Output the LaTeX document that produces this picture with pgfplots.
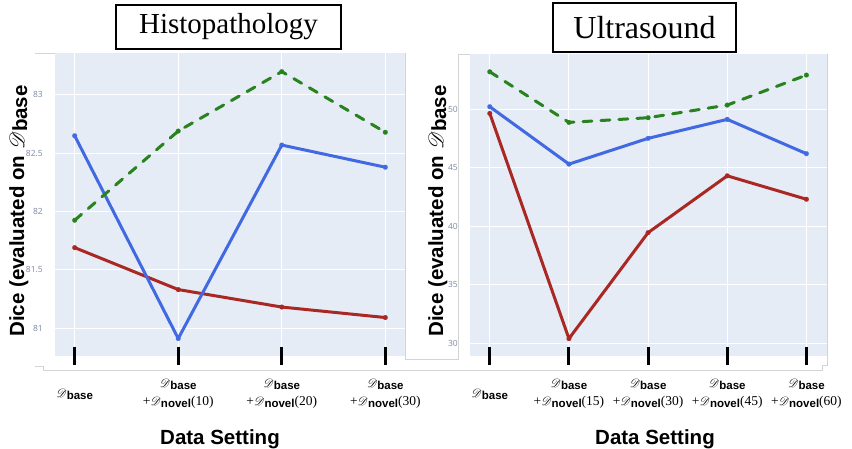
\documentclass[border=0pt]{standalone}
\usepackage{pgfplots}
\pgfplotsset{compat=1.18}
\usepackage{fontspec}
\usepackage{mathrsfs}
\setmainfont{Liberation Serif}
\setsansfont{Liberation Sans}
\newfontfamily\tickfont{Open Sans}
\definecolor{bgc}{HTML}{E5ECF6}
\definecolor{myblue}{RGB}{65,105,225}
\definecolor{myred}{RGB}{170,40,35}
\definecolor{mygreen}{RGB}{40,130,30}
\definecolor{tickgray}{HTML}{7D89A2}
\definecolor{bordergray}{HTML}{D4D4D4}
\newcommand{\sub}[1]{\raisebox{-2pt}{\sffamily\bfseries #1}}
\newcommand{\Dset}[1]{$\mathscr{D}$\sub{#1}}
\newcommand{\bigtxt}[1]{{\fontsize{13.5}{18}\selectfont #1}}
\newcommand{\nov}[1]{\bigtxt{+}\Dset{novel}\bigtxt{(#1)}}
\pgfplotsset{
  mystyle/.style={
    scale only axis, anchor=south west,
    axis background/.style={fill=bgc},
    axis line style={draw=none},
    grid=major, grid style={white, line width=1pt},
    xtick pos=left,
    ytick style={draw=none},
    xtick style={black, line width=3pt},
    tick align=center, major tick length=18pt,
    yticklabel style={font=\tickfont\fontsize{8.5}{10}\selectfont, text=tickgray, anchor=east, inner sep=1pt, xshift=-2pt},
    /pgf/number format/assume math mode=true,
    xticklabel style={font=\fontsize{11.5}{18}\selectfont, align=center, anchor=center, yshift=-29pt},
    every axis plot/.append style={line width=3pt, line join=round, mark=*, mark size=2.4pt, mark options={solid, line width=0.1pt}},
  }
}
\begin{document}
\begin{tikzpicture}
\useasboundingbox (0pt,0pt) rectangle (852pt,-449pt);
% panel borders
\draw[bordergray, line width=0.8pt] (35pt,-53pt) -- (405pt,-53pt);
\draw[bordergray, line width=0.8pt] (35pt,-366pt) -- (43pt,-366pt) -- (43pt,-370pt) -- (822pt,-370pt) -- (822pt,-365pt) -- (827pt,-365pt) -- (827pt,-54pt) -- (458pt,-54pt) -- (458pt,-359pt) -- (405pt,-359pt) -- (405pt,-53pt);

\begin{axis}[mystyle, at={(55pt,-356pt)}, width=350pt, height=303pt,
  xmin=-0.19, xmax=3.19, ymin=80.76, ymax=83.36,
  xtick={0,1,2,3}, ytick={81,81.5,82,82.5,83},
  xticklabels={{\raisebox{-3pt}{\Dset{base}}},{\Dset{base}\\\nov{10}},{\Dset{base}\\\nov{20}},{\Dset{base}\\\nov{30}}},
]
\addplot[myred] coordinates {(0,81.69)(1,81.33)(2,81.18)(3,81.09)};
\addplot[myblue] coordinates {(0,82.65)(1,80.91)(2,82.57)(3,82.38)};
\addplot[mygreen, dash pattern=on 9pt off 9pt, line cap=round] coordinates {(0,81.925)(1,82.69)(2,83.2)(3,82.68)};
\end{axis}

\begin{axis}[mystyle, at={(470pt,-356pt)}, width=357pt, height=302pt,
  xmin=-0.25, xmax=4.26, ymin=28.92, ymax=54.7,
  xtick={0,1,2,3,4}, ytick={30,35,40,45,50},
  xticklabels={{\raisebox{-3pt}{\Dset{base}}},{\Dset{base}\\\nov{15}},{\Dset{base}\\\nov{30}},{\Dset{base}\\\nov{45}},{\Dset{base}\\\nov{60}}},
]
\addplot[myred] coordinates {(0,49.63)(1,30.4)(2,39.45)(3,44.3)(4,42.3)};
\addplot[myblue] coordinates {(0,50.2)(1,45.3)(2,47.5)(3,49.12)(4,46.19)};
\addplot[mygreen, dash pattern=on 9pt off 9pt, line cap=round] coordinates {(0,53.18)(1,48.86)(2,49.26)(3,50.34)(4,52.9)};
\end{axis}

% titles
\node[draw, line width=1.5pt, minimum width=225pt, minimum height=44pt, inner sep=0pt, font=\fontsize{29}{29}\selectfont] at (228.5pt,-27pt) {Histopathology};
\node[draw, line width=1.5pt, minimum width=183pt, minimum height=49pt, inner sep=0pt, font=\fontsize{32}{32}\selectfont] at (644.5pt,-27.5pt) {Ultrasound};
% y labels
\node[rotate=90, anchor=base, inner sep=0pt, font=\sffamily\bfseries\fontsize{20.5}{24}\selectfont] at (24pt,-211pt) {Dice (evaluated on $\mathscr{D}$\raisebox{-3pt}{base}};
\node[rotate=90, anchor=base, inner sep=0pt, font=\sffamily\bfseries\fontsize{20.5}{24}\selectfont] at (443pt,-211pt) {Dice (evaluated on $\mathscr{D}$\raisebox{-3pt}{base}};
% x labels
\node[anchor=base, inner sep=0pt, font=\sffamily\bfseries\fontsize{20.5}{24}\selectfont] at (220pt,-444pt) {Data Setting};
\node[anchor=base, inner sep=0pt, font=\sffamily\bfseries\fontsize{20.5}{24}\selectfont] at (655pt,-444pt) {Data Setting};
\end{tikzpicture}
\end{document}
